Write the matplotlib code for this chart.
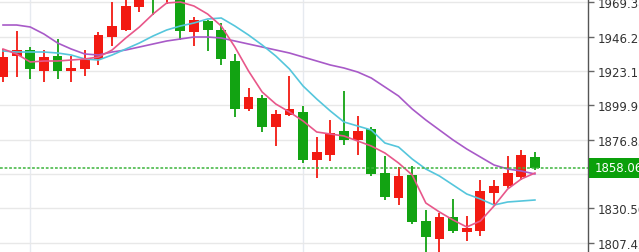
import numpy as np
import matplotlib
matplotlib.use("Agg")
from matplotlib import pyplot as plt
from matplotlib import transforms
from matplotlib.patches import Rectangle

# candle data (red = up, green = down)
opens = [1919.05, 1933.20, 1937.24, 1923.09, 1933.20, 1923.09, 1924.44, 1931.18, 1946.00, 1950.72,
         1966.21, 1981.70, 1975.00, 1978.00, 1949.37, 1956.78, 1950.72, 1929.83, 1897.49, 1904.90,
         1885.36, 1893.45, 1895.47, 1863.13, 1866.50, 1882.67, 1876.61, 1884.02, 1854.37, 1837.53,
         1853.03, 1822.04, 1809.91, 1824.73, 1814.62, 1815.30, 1840.90, 1845.62, 1851.68, 1865.15]
highs = [1937.91, 1950.04, 1939.26, 1937.24, 1944.65, 1933.20, 1937.24, 1949.37, 1969.58, 1972.00,
         1979.70, 1985.00, 1987.00, 1980.00, 1959.47, 1957.45, 1955.43, 1934.55, 1911.64, 1906.92,
         1896.82, 1919.72, 1899.51, 1878.63, 1890.08, 1909.62, 1892.78, 1885.36, 1865.83, 1858.42,
         1859.09, 1829.44, 1827.43, 1836.86, 1825.40, 1849.66, 1849.66, 1865.83, 1869.87, 1868.52]
lows = [1915.68, 1919.05, 1917.70, 1915.68, 1917.70, 1915.68, 1919.72, 1927.13, 1939.94, 1950.04,
        1962.84, 1960.82, 1968.50, 1943.98, 1939.94, 1936.57, 1927.13, 1892.10, 1896.14, 1881.99,
        1872.56, 1892.78, 1861.11, 1851.00, 1862.46, 1873.24, 1866.50, 1852.35, 1836.18, 1832.81,
        1820.01, 1799.80, 1799.10, 1813.95, 1808.56, 1811.93, 1833.49, 1844.27, 1849.66, 1856.39]
closes = [1932.52, 1937.24, 1924.44, 1932.52, 1923.09, 1925.11, 1931.18, 1947.35, 1953.41, 1966.88,
          1977.00, 1973.60, 1983.00, 1950.04, 1957.45, 1950.72, 1931.18, 1897.49, 1905.58, 1885.36,
          1894.12, 1897.49, 1863.13, 1868.52, 1881.32, 1876.61, 1882.67, 1853.70, 1838.20, 1852.35,
          1821.36, 1811.26, 1824.73, 1815.30, 1817.32, 1842.25, 1845.62, 1854.37, 1866.50, 1858.06]

ma5 = [1937.91, 1934.55, 1929.16, 1929.83, 1929.83, 1930.50, 1931.18, 1932.52, 1937.24, 1945.32,
       1952.74, 1961.49, 1968.91, 1969.58, 1966.88, 1961.49, 1953.41, 1939.26, 1923.09, 1908.94,
       1900.86, 1895.47, 1889.41, 1882.00, 1880.65, 1879.30, 1875.93, 1872.56, 1867.85, 1861.11,
       1853.03, 1834.16, 1828.10, 1822.71, 1817.99, 1822.04, 1832.14, 1843.59, 1850.33, 1854.37]
ma10 = [1936.57, 1935.89, 1935.89, 1935.89, 1935.22, 1933.87, 1931.18, 1930.50, 1933.87, 1937.91,
        1941.96, 1946.67, 1950.72, 1953.41, 1955.43, 1958.13, 1958.80, 1953.41, 1947.35, 1940.61,
        1933.20, 1924.44, 1912.98, 1904.23, 1896.14, 1888.74, 1886.04, 1883.34, 1874.58, 1871.89,
        1863.80, 1857.07, 1852.35, 1846.29, 1840.22, 1836.86, 1832.81, 1834.84, 1835.51, 1836.18]
ma20 = [1954.08, 1954.08, 1952.74, 1948.02, 1941.96, 1937.91, 1934.55, 1933.87, 1935.89, 1937.24,
        1939.26, 1941.28, 1943.30, 1944.65, 1946.00, 1946.00, 1945.32, 1943.30, 1941.28, 1939.26,
        1937.24, 1935.22, 1932.52, 1929.83, 1927.13, 1925.11, 1922.42, 1918.38, 1912.31, 1906.25,
        1897.49, 1890.08, 1883.34, 1876.61, 1870.54, 1865.15, 1859.76, 1857.07, 1855.72, 1853.70]

yticks = [1969.38, 1946.24, 1923.11, 1899.97, 1876.83, 1853.69, 1830.56, 1807.42]
ytick_labels = ["1969.38", "1946.24", "1923.11", "1899.97", "1876.83", "", "1830.56", "1807.42"]
last_price = 1858.06

up_color = "#f21a12"
down_color = "#12a312"

fig = plt.figure(figsize=(6.39, 2.53), dpi=100)
ax = fig.add_axes([0, 0, 588 / 639, 1])

x = np.arange(len(opens))
o = np.array(opens)
c = np.array(closes)
colors = [up_color if cc >= oo else down_color for oo, cc in zip(o, c)]

# wicks and bodies
ax.vlines(x, lows, highs, colors=colors, lw=1.3, zorder=3)
body_h = np.maximum(np.abs(c - o), 0.8)
ax.bar(x, body_h, bottom=np.minimum(o, c), width=0.72, color=colors, zorder=3)

# moving averages
ax.plot(x, ma20, color="#a85ac8", lw=1.2, zorder=4)
ax.plot(x, ma10, color="#55c6dc", lw=1.2, zorder=4)
ax.plot(x, ma5, color="#e8578a", lw=1.2, zorder=4)

ax.axhline(last_price, color="#3cb43c", lw=1.1, ls=(0, (1.8, 1.2)), zorder=5)

ax.set_xlim(-0.22, 42.89)
ax.set_ylim(1801.15, 1971.60)

ax.grid(axis="y", color="#e8e8e8", lw=1, zorder=0)
for gx in [2, 22]:
    ax.axvline(gx, color="#e6eaf0", lw=1, zorder=0)

for side in ["top", "left", "bottom"]:
    ax.spines[side].set_visible(False)
ax.spines["right"].set_color("#555555")
ax.spines["right"].set_linewidth(1)

ax.yaxis.tick_right()
ax.set_yticks(yticks)
ax.set_yticklabels(ytick_labels)
ax.tick_params(axis="y", direction="out", length=4, width=1, color="#666666",
               labelsize=8.5, labelcolor="#333333", pad=3)
ax.set_xticks([])

# last price tag
trans = transforms.blended_transform_factory(fig.transFigure, ax.transData)
box_h = 20 / 1.4843
ax.add_patch(Rectangle((589 / 639, last_price - box_h / 2), 1, box_h, transform=trans,
                       facecolor="#0aa00a", edgecolor="none", clip_on=False, zorder=10))
ax.text(595 / 639, last_price, "1858.06", transform=trans, color="white", fontsize=8.5,
        va="center", ha="left", clip_on=False, zorder=11)

fig.savefig("out.png", dpi=100)
